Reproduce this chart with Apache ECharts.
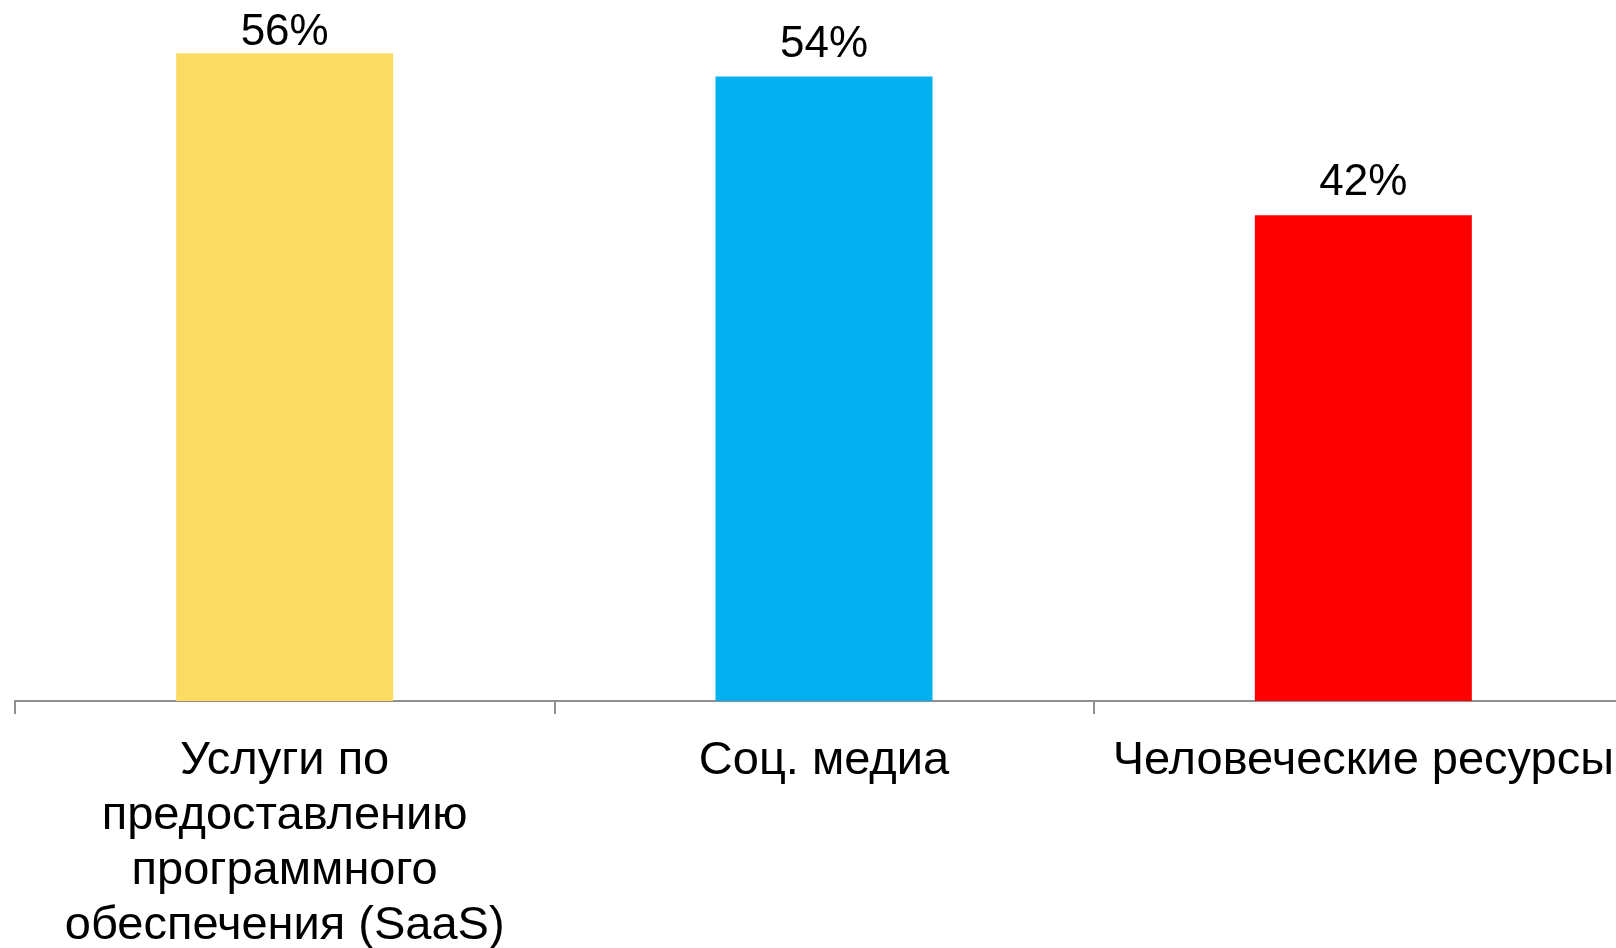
<!DOCTYPE html>
<html>
<head>
<meta charset="utf-8">
<script src="https://cdn.jsdelivr.net/npm/echarts@6/dist/echarts.min.js"></script>
<style>
    html, body { margin: 0; padding: 0; background: #fff; }
    #chart { width: 1616px; height: 948px; }
</style>
</head>
<body>
<div id="chart"></div>
<script>
// categories and values
const categories = [
    'Услуги по\nпредоставлению\nпрограммного\nобеспечения (SaaS)',
    'Соц. медиа',
    'Человеческие ресурсы'
];
const values = [56, 54, 42];
const barColors = ['#fcdb63', '#03b0ef', '#ff0000'];
// the first label sits squeezed against the top edge in the original
const labelGaps = [-2, 10, 10];

const chart = echarts.init(document.getElementById('chart'));

chart.setOption({
    animation: false,
    grid: {
        left: 15,
        top: 7,
        width: 1618,
        bottom: 247,
        containLabel: false,
        outerBoundsMode: 'none'
    },
    xAxis: {
        type: 'category',
        data: categories,
        axisLine: {
            lineStyle: { color: '#8f8f8f', width: 2 }
        },
        axisTick: {
            show: true,
            length: 13,
            lineStyle: { color: '#8f8f8f', width: 2 }
        },
        axisLabel: {
            interval: 0,
            margin: 33,
            color: '#000',
            fontFamily: 'Liberation Sans, Arial, sans-serif',
            fontSize: 47,
            lineHeight: 55
        }
    },
    yAxis: {
        type: 'value',
        min: 0,
        max: 60,
        show: false,
        splitLine: { show: false }
    },
    series: [{
        type: 'bar',
        barWidth: 217,
        data: values.map((v, i) => ({
            value: v,
            itemStyle: { color: barColors[i] },
            label: { distance: labelGaps[i] }
        })),
        label: {
            show: true,
            position: 'top',
            formatter: '{c}%',
            color: '#000',
            fontFamily: 'Liberation Sans, Arial, sans-serif',
            fontSize: 44
        }
    }]
});
</script>
</body>
</html>
